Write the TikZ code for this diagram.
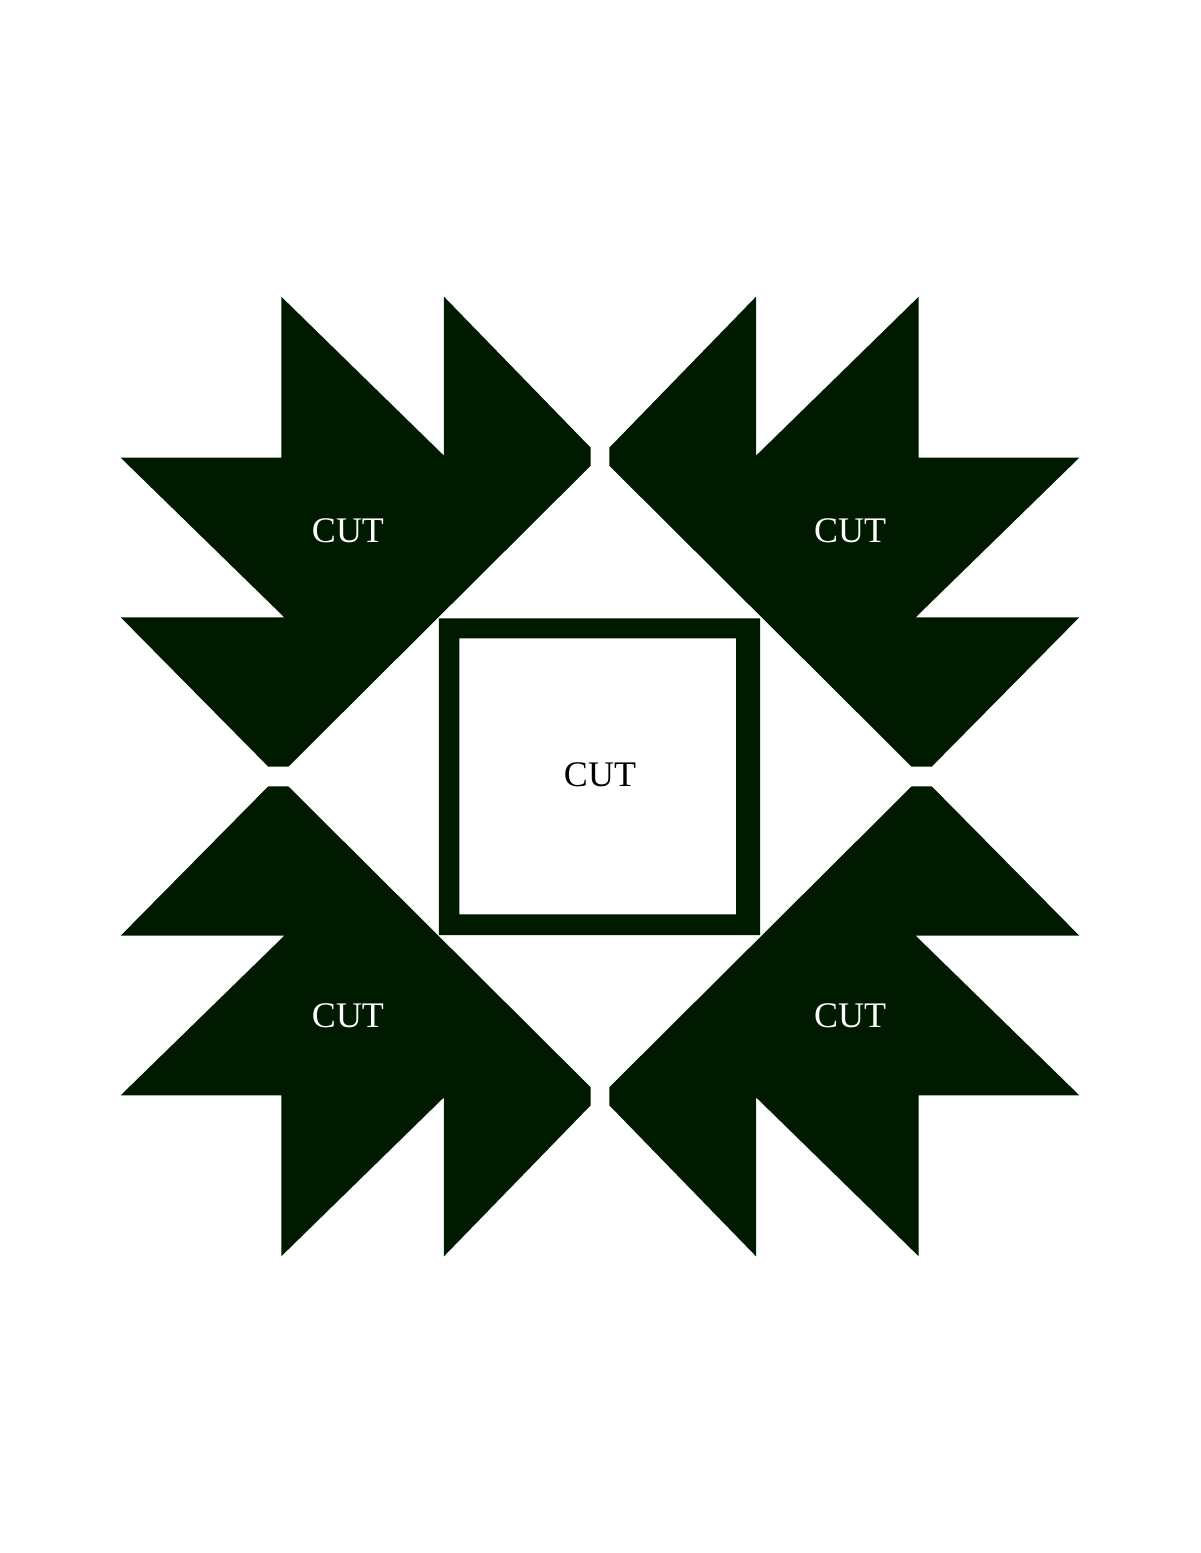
\documentclass[tikz,border=0pt]{standalone}
\usepackage{fontspec}
\setmainfont{Liberation Serif}
\definecolor{vertpatte}{RGB}{0,26,0}
\tikzset{
  patte/.style={fill=vertpatte},
  etiquette/.style={font=\fontsize{36}{36}\selectfont, anchor=base},
}
\begin{document}
\begin{tikzpicture}[x=1pt,y=1pt]
\useasboundingbox (-600,-776.5) rectangle (600,776.5);
% Les quatre pattes : une seule est décrite, les autres par symétrie
\foreach \sx/\sy in {1/1,-1/1,1/-1,-1/-1}{
\fill[patte,xscale=\sx,yscale=\sy] (-318.7,479.8) -- (-318.7,318.8) -- (-479.3,318.8) -- (-315.7,159.2) -- (-479.3,159.2) -- (-331.7,9.8) -- (-311.7,9.8) -- (-9.3,310.8) -- (-9.3,328.8) -- (-156,479.8) -- (-156,320.8) -- cycle ;
}
% Le carré central, cadre épais
\fill[patte,even odd rule] (-161,158.2) rectangle (160,-158.5) (-140.7,138.2) rectangle (136,-137.8) ;
% Les étiquettes
\node[etiquette,color=white] (cutHG) at (-252,233.5) {CUT};
\node[etiquette,color=white] (cutHD) at (250,233.5) {CUT};
\node[etiquette,color=white] (cutBG) at (-252,-251.2) {CUT};
\node[etiquette,color=white] (cutBD) at (250,-251.2) {CUT};
\node[etiquette,color=black] (cutC) at (0,-10.2) {CUT};
\end{tikzpicture}
\end{document}
